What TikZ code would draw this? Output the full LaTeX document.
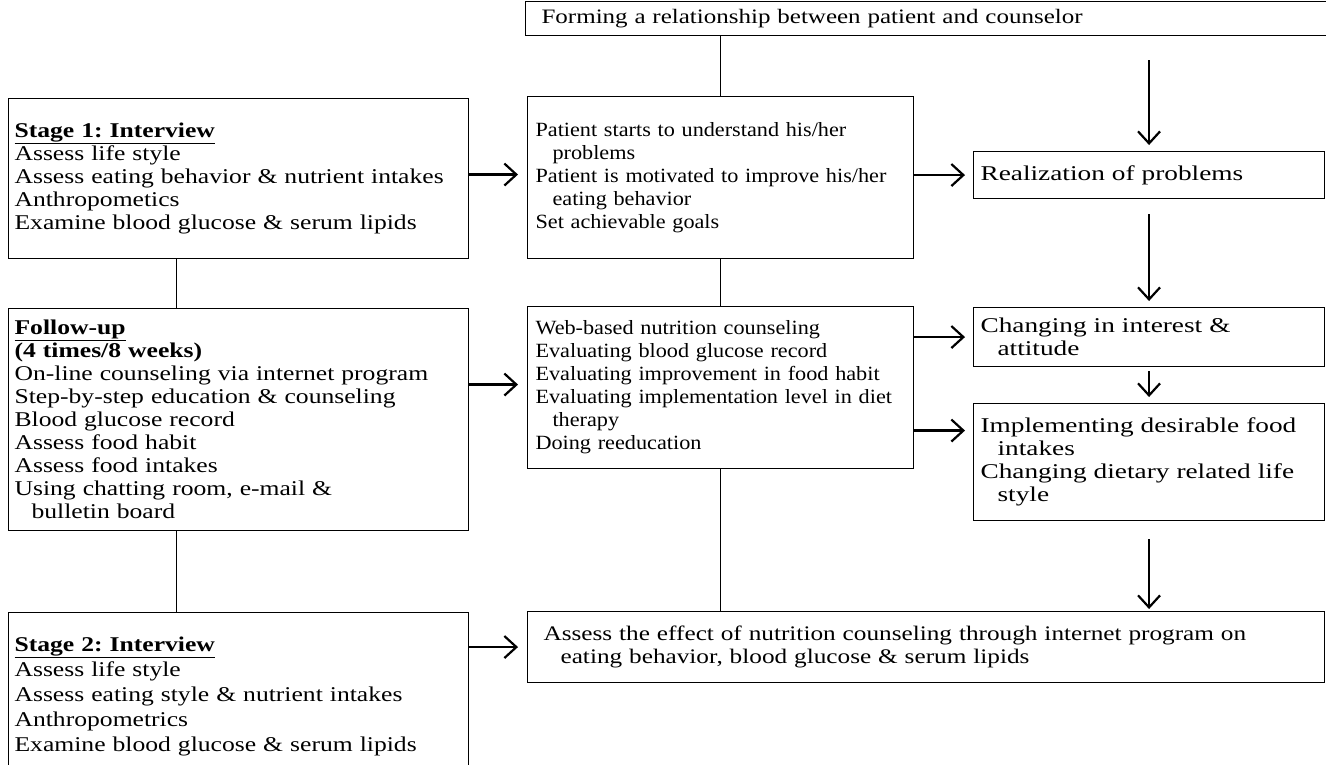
\documentclass[tikz,border=0pt]{standalone}
\usepackage{fontspec}
\setmainfont[FakeStretch=1.22,WordSpace=2.6]{Liberation Serif}
\usetikzlibrary{arrows.meta}
\frenchspacing

\begin{document}
\begin{tikzpicture}[x=1pt, y=-1pt,
    box/.style={draw, line width=1.1pt, anchor=north west, align=left,
        inner ysep=0pt, font=\fontsize{21}{23}\selectfont},
    midbox/.style={box, inner xsep=8pt, text width=370pt,
        font=\fontsize{20.2}{23}\selectfont\addfontfeatures{FakeStretch=1.1}},
    sidebox/.style={box, inner xsep=7pt, text width=337pt,
        font=\fontsize{21}{23}\selectfont\addfontfeatures{FakeStretch=1.3}},
    arr/.style={-{Straight Barb[length=12pt,width=22pt]}, line width=2.2pt},
    link/.style={line width=1.1pt}]
    \useasboundingbox (0,0) rectangle (1326,764);
    \clip (0,0) rectangle (1326,764);

    % Draw the left column
    \node[box, inner xsep=6pt, text width=448pt, minimum height=160pt] (stage1) at (8,98)
        {\underline{\textbf{Stage 1: Interview}}\\
         Assess life style\\
         Assess eating behavior \& nutrient intakes\\
         Anthropometics\\
         Examine blood glucose \& serum lipids};
    \node[box, inner xsep=6pt, text width=448pt, minimum height=222pt] (follow) at (8,308)
        {\underline{\textbf{Follow-up}}\\
         \textbf{(4 times/8 weeks)}\\
         On-line counseling via internet program\\
         Step-by-step education \& counseling\\
         Blood glucose record\\
         Assess food habit\\
         Assess food intakes\\
         Using chatting room, e-mail \&\\
         \hspace*{17pt}bulletin board};
    \node[box, inner xsep=6pt, text width=448pt, minimum height=168pt,
        font=\fontsize{21}{25}\selectfont] (stage2) at (8,612)
        {\underline{\textbf{Stage 2: Interview}}\\
         Assess life style\\
         Assess eating style \& nutrient intakes\\
         Anthropometrics\\
         Examine blood glucose \& serum lipids};

    % Draw the middle column
    \node[box, inner xsep=16pt, text width=769pt, minimum height=34pt,
        font=\fontsize{20.5}{23}\selectfont] (top) at (525,1)
        {Forming a relationship between patient and counselor};
    \node[midbox, minimum height=162pt] (mid1) at (527,96)
        {Patient starts to understand his/her\\
         \hspace*{17pt}problems\\
         Patient is motivated to improve his/her\\
         \hspace*{17pt}eating behavior\\
         Set achievable goals};
    \node[midbox, minimum height=162pt] (mid2) at (527,306)
        {Web-based nutrition counseling\\
         Evaluating blood glucose record\\
         Evaluating improvement in food habit\\
         Evaluating implementation level in diet\\
         \hspace*{17pt}therapy\\
         Doing reeducation};
    \node[box, inner xsep=16pt, text width=765pt, minimum height=71pt,
        font=\fontsize{20.7}{23}\selectfont] (final) at (527,611)
        {Assess the effect of nutrition counseling through internet program on\\
         \hspace*{17pt}eating behavior, blood glucose \& serum lipids};

    % Draw the right column
    \node[sidebox, minimum height=47pt] (real) at (973,151)
        {Realization of problems};
    \node[sidebox, minimum height=59pt] (chg) at (973,307)
        {Changing in interest \&\\
         \hspace*{17pt}attitude};
    \node[sidebox, minimum height=117pt] (impl) at (973,403)
        {Implementing desirable food\\
         \hspace*{17pt}intakes\\
         Changing dietary related life\\
         \hspace*{17pt}style};

    % Plain links
    \draw[link] (top.south -| mid1.north) -- (mid1.north);
    \draw[link] (mid1) -- (mid2);
    \draw[link] (mid2.south) -- (mid2.south |- final.north);
    \draw[link] ([xshift=-62pt]stage1.south) -- ([xshift=-62pt]stage1.south |- follow.north);
    \draw[link] ([xshift=-62pt]follow.south) -- ([xshift=-62pt]follow.south |- stage2.north);

    % Horizontal arrows
    \draw[arr, shorten >=9pt] ([yshift=4pt]stage1.east) -- ([yshift=4pt]stage1.east -| mid1.west);
    \draw[arr, shorten >=8pt] (mid1.east |- real.west) -- (real.west);
    \draw[arr, shorten >=9pt] ([yshift=35pt]follow.east) -- ([yshift=35pt]follow.east -| mid2.west);
    \draw[arr, shorten >=8pt] (mid2.east |- chg.west) -- (chg.west);
    \draw[arr, shorten >=8pt] ([yshift=-43pt]mid2.east) -- ([yshift=-43pt]mid2.east -| impl.west);
    \draw[arr, shorten >=9pt] (stage2.east |- final.west) -- (final.west);

    % Vertical arrows
    \coordinate (start) at ([yshift=91pt]real.north);
    \draw[arr, shorten >=6pt] (start) -- (real.north);
    \draw[arr, shorten <=15pt, shorten >=6pt] (real.south) -- (chg.north);
    \draw[arr, shorten <=4pt, shorten >=6pt] (chg.south) -- (impl.north);
    \draw[arr, shorten <=18pt, shorten >=2pt] (impl.south) -- (impl.south |- final.north);
\end{tikzpicture}
\end{document}
